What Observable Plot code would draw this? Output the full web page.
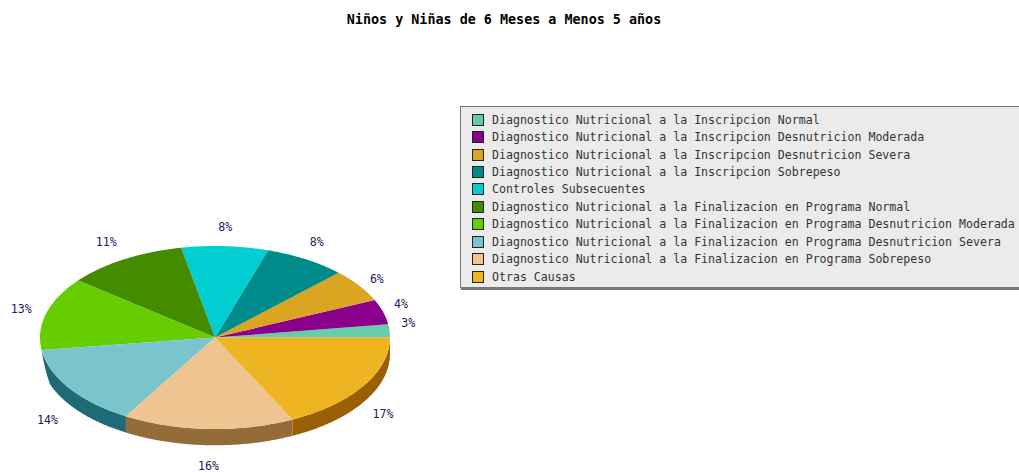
<!DOCTYPE html>
<html>
<head>
<meta charset="utf-8">
<script src="https://cdn.jsdelivr.net/npm/d3@7"></script>
<script src="https://cdn.jsdelivr.net/npm/@observablehq/plot@0.6"></script>
<style>
html, body { margin: 0; background: #fff; }
#page { position: relative; width: 1019px; height: 472px; overflow: hidden; }
#page svg { position: absolute; left: 0; top: 0; }
#title { position: absolute; left: 0; top: 12px; width: 1008px; text-align: center;
  font: bold 13.4px "DejaVu Sans Mono", monospace; color: #000; }
#legend { position: absolute; left: 460px; top: 106px; width: 580px; height: 182px; box-sizing: border-box;
  background: #ebebeb; border: 1px solid #777; box-shadow: 1px 2px 0 #777;
  font: 11.58px "DejaVu Sans Mono", monospace; color: #333; padding-top: 4px; }
.row { height: 17.45px; display: flex; align-items: center; white-space: pre; }
.sw { width: 10px; height: 10px; border: 1px solid #222; margin: 0 8px 0 11px; flex: none; }
</style>
</head>
<body>
<div id="page">
<div id="title"></div>
<div id="legend"></div>
</div>
<script>
const chartTitle = "Niños y Niñas de 6 Meses a Menos 5 años";
const categories = [
  "Diagnostico Nutricional a la Inscripcion Normal",
  "Diagnostico Nutricional a la Inscripcion Desnutricion Moderada",
  "Diagnostico Nutricional a la Inscripcion Desnutricion Severa",
  "Diagnostico Nutricional a la Inscripcion Sobrepeso",
  "Controles Subsecuentes",
  "Diagnostico Nutricional a la Finalizacion en Programa Normal",
  "Diagnostico Nutricional a la Finalizacion en Programa Desnutricion Moderada",
  "Diagnostico Nutricional a la Finalizacion en Programa Desnutricion Severa",
  "Diagnostico Nutricional a la Finalizacion en Programa Sobrepeso",
  "Otras Causas"
];
const shares = [2.3, 4.4, 5.8, 7.6, 8.0, 11.2, 12.9, 14.3, 15.8, 17.7];
const percentLabels = ["3%", "4%", "6%", "8%", "8%", "11%", "13%", "14%", "16%", "17%"];
const colors = ["#66cdaa", "#8b008b", "#daa520", "#008b8b", "#00ced1", "#458b00", "#66cd00", "#7ac5cd", "#eec591", "#eeb422"];
const sideColors = ["#3d7b66", "#530053", "#836313", "#005353", "#007b7d", "#295300", "#3d7b00", "#1f6b75", "#946c3a", "#9a5f05"];
// Small pixel nudges for the percent labels, [right, down]
const labelNudge = [[-4, -6], [-4, -2], [-1, 5], [-1, 0], [-1, 1], [-6, 0], [-3, 1], [-3, 5], [1, 1], [0, 2]];

const depth = 0.178;           // thickness of the disc, in vertical radii
const taper = 0.2;             // radians over which the side wall grows on the left
const TAU = 2 * Math.PI;
const pxX = 2 / 350, pxY = 2 / 183;
const arcs = d3.pie().sort(null).startAngle(0).endAngle(TAU)(shares);
const wallStart = arcs.find(d => d.startAngle >= Math.PI).startAngle;

function arcPoints(a0, a1, wall = false) {
  const n = Math.max(2, Math.ceil((a1 - a0) / 0.01));
  return d3.range(n + 1).map(i => {
    const a = a0 + (a1 - a0) * i / n;
    const dy = wall ? depth * Math.min(1, (a - wallStart) / taper) : 0;
    return {x: Math.cos(a), y: Math.sin(a) - dy};
  });
}

const topFaces = [], sideFaces = [];
arcs.forEach((d, i) => {
  arcPoints(d.startAngle, d.endAngle).concat([{x: 0, y: 0}])
    .forEach(p => topFaces.push({...p, k: i}));
  if (d.startAngle >= wallStart) {
    arcPoints(d.startAngle, d.endAngle).concat(arcPoints(d.startAngle, d.endAngle, true).reverse())
      .forEach(p => sideFaces.push({...p, k: i}));
  }
});

const labelData = arcs.map((d, i) => {
  const mid = (d.startAngle + d.endAngle) / 2;
  const s = Math.sin(mid);
  return {
    x: 1.13 * Math.cos(mid) + labelNudge[i][0] * pxX,
    y: 1.22 * s - (s < 0 ? depth : 0) - labelNudge[i][1] * pxY,
    text: percentLabels[i]
  };
});

const chart = Plot.plot({
  width: 1019,
  height: 472,
  margin: 0,
  style: {background: "transparent"},
  x: {domain: [-1, 1], range: [39.5, 389.5], axis: null},
  y: {domain: [-1, 1], range: [428.5, 245.5], axis: null},
  marks: [
    Plot.line(sideFaces, {x: "x", y: "y", z: "k", curve: "linear-closed", stroke: "none",
      fill: d => sideColors[d.k]}),
    Plot.line(topFaces, {x: "x", y: "y", z: "k", curve: "linear-closed", stroke: "none",
      fill: d => colors[d.k]}),
    Plot.text(labelData, {x: "x", y: "y", text: "text", fill: "#1c1c5c",
      fontFamily: "DejaVu Sans Mono", fontSize: 11.58})
  ]
});
document.getElementById("page").prepend(chart);
document.getElementById("title").textContent = chartTitle;

const legend = document.getElementById("legend");
categories.forEach((c, i) => {
  const row = document.createElement("div");
  row.className = "row";
  const sw = document.createElement("span");
  sw.className = "sw";
  sw.style.background = colors[i];
  const t = document.createElement("span");
  t.textContent = c;
  row.append(sw, t);
  legend.append(row);
});
</script>
</body>
</html>
